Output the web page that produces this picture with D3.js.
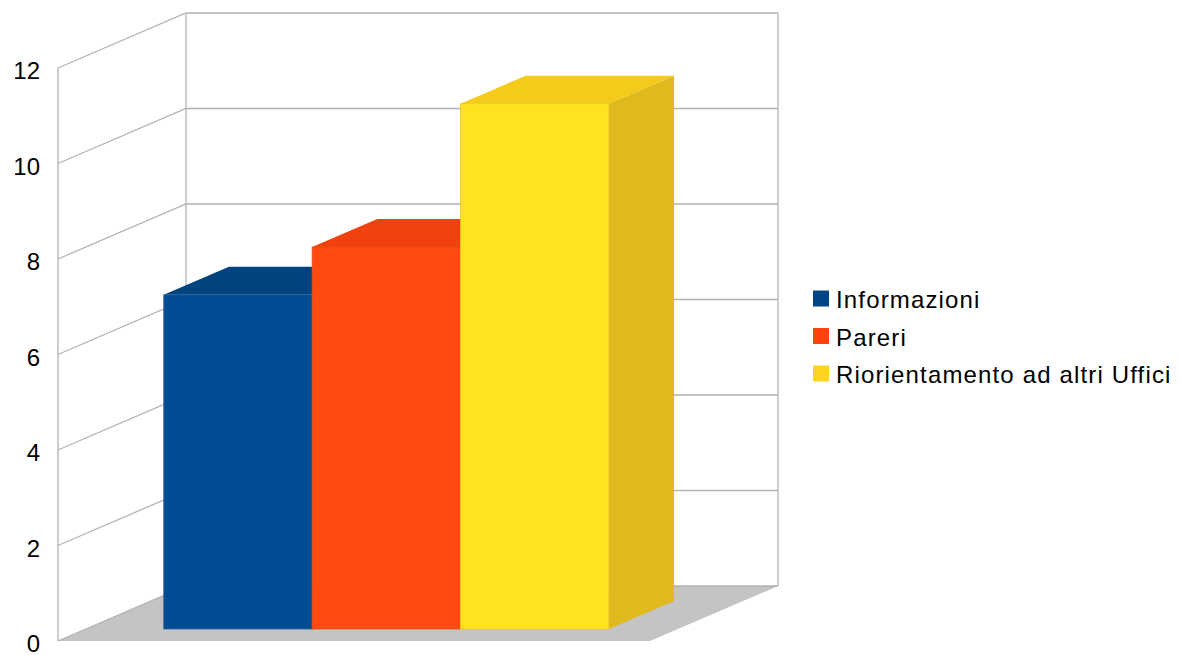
<!DOCTYPE html>
<html>
<head>
<meta charset="utf-8">
<script src="https://cdn.jsdelivr.net/npm/d3@7"></script>
<style>
  html, body { margin: 0; padding: 0; background: #ffffff; }
  svg { display: block; }
  text { font-family: "Liberation Sans", Arial, sans-serif; fill: #000; }
</style>
</head>
<body>
<svg id="chart" width="1181" height="655"></svg>
<script>
// Data
const categories = [""];
const seriesNames = ["Informazioni", "Pareri", "Riorientamento ad altri Uffici"];
const seriesValues = [7, 8, 11];
const yTicks = [0, 2, 4, 6, 8, 10, 12];

// Colours: legend swatch, lit front face, top face, side face
const legendColors = ["#004586", "#ff420e", "#ffd320"];
const frontColors = ["#004c93", "#ff4a12", "#ffe31f"];
const topColors = ["#00437f", "#f1410e", "#f4cb1b"];
const sideColors = ["#003b70", "#d83a0c", "#e0b91d"];
const edgeColors = ["#2f5f8f", "#d9531f", "#e6c920"];

const svg = d3.select("#chart");

// Front plane of the 3D box
const x0 = 58, x1 = 650;
const y = d3.scaleLinear().domain([0, 12]).range([641, 68]);

// Oblique projection for depth (0 = front, 1 = back wall)
const depthDX = 128, depthDY = -55;
const P = (px, py, z) => [px + z * depthDX, py + z * depthDY];

// Bars sit between these depth fractions
const zFront = 12 / 55, zBack = 40 / 55;

const xCat = d3.scaleBand().domain(categories).range([x0, x1])
  .paddingOuter(0.165).paddingInner(0).align(0.53);
const xSeries = d3.scaleBand().domain(seriesNames)
  .range([xCat(categories[0]), xCat(categories[0]) + xCat.bandwidth()]);

const gridColor = "#b3b3b3";
const line = d3.line();

// Floor
svg.append("path")
  .attr("d", line([P(x0, y(0), 0), P(x1, y(0), 0), P(x1, y(0), 1), P(x0, y(0), 1)]) + "Z")
  .attr("fill", "#c4c4c4");

// Back wall and left wall grid
const grid = svg.append("g").attr("stroke", gridColor).attr("stroke-width", 1.3).attr("fill", "none");
yTicks.forEach(t => {
  grid.append("path").attr("d", line([P(x0, y(t), 0), P(x0, y(t), 1), P(x1, y(t), 1)]));
});
grid.append("path").attr("d", line([P(x0, y(0), 0), P(x0, y(12), 0)]));
grid.append("path").attr("d", line([P(x0, y(0), 1), P(x0, y(12), 1)]));
grid.append("path").attr("d", line([P(x1, y(0), 1), P(x1, y(12), 1)]));

// Y axis labels
svg.append("g").selectAll("text").data(yTicks).join("text")
  .attr("x", 40)
  .attr("y", d => y(d) + 2.5)
  .attr("text-anchor", "end")
  .attr("dominant-baseline", "central")
  .attr("font-size", 24)
  .text(d => d);

// Bars, drawn left to right so each front face covers the previous side face
const bars = svg.append("g");
seriesNames.forEach((name, i) => {
  const v = seriesValues[i];
  const bx0 = xSeries(name), bx1 = bx0 + xSeries.bandwidth();
  const g = bars.append("g");
  // top face
  g.append("path")
    .attr("d", line([P(bx0, y(v), zFront), P(bx1, y(v), zFront), P(bx1, y(v), zBack), P(bx0, y(v), zBack)]) + "Z")
    .attr("fill", topColors[i]);
  // right side face
  g.append("path")
    .attr("d", line([P(bx1, y(v), zFront), P(bx1, y(0), zFront), P(bx1, y(0), zBack), P(bx1, y(v), zBack)]) + "Z")
    .attr("fill", sideColors[i]);
  // front face
  const [fx, fy] = P(bx0, y(v), zFront);
  const [, fb] = P(bx0, y(0), zFront);
  g.append("rect")
    .attr("x", fx).attr("y", fy)
    .attr("width", bx1 - bx0).attr("height", fb - fy)
    .attr("fill", frontColors[i])
    .attr("stroke", edgeColors[i]).attr("stroke-width", 0.8);
});

// Legend
const legend = svg.append("g").attr("transform", "translate(813, 298.5)");
seriesNames.forEach((name, i) => {
  const row = legend.append("g").attr("transform", `translate(0, ${i * 37.5})`);
  row.append("rect").attr("x", 0).attr("y", -8).attr("width", 16).attr("height", 16)
    .attr("fill", legendColors[i]);
  row.append("text").attr("x", 23).attr("y", 1)
    .attr("dominant-baseline", "central")
    .attr("font-size", 24)
    .attr("letter-spacing", 1.15)
    .text(name);
});
</script>
</body>
</html>
